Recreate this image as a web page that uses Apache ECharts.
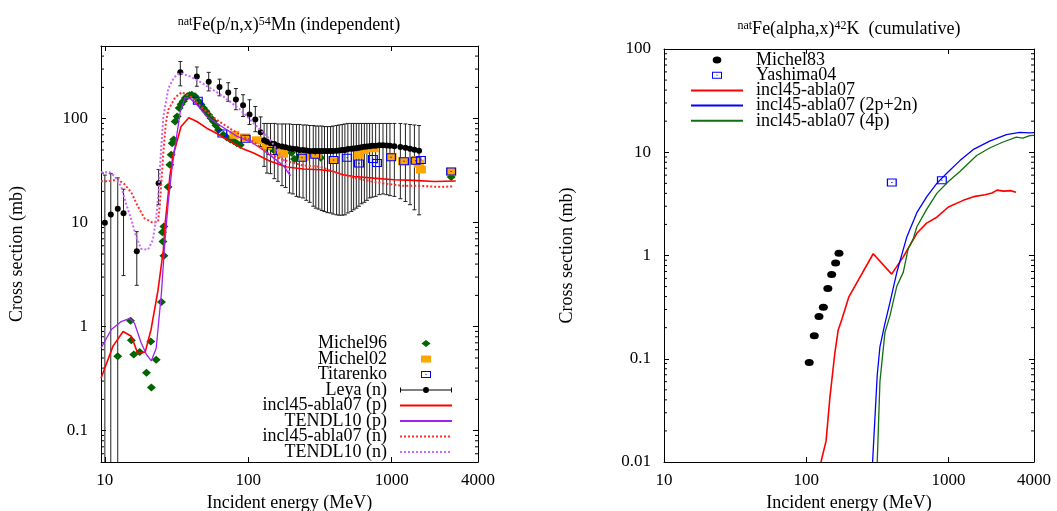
<!DOCTYPE html>
<html>
<head>
<meta charset="utf-8">
<script src="https://cdn.jsdelivr.net/npm/echarts@6/dist/echarts.min.js"></script>
<style>
  html, body { margin: 0; padding: 0; background: #fff; }
  #chart { width: 1057px; height: 511px; }
</style>
</head>
<body>
<div id="chart"></div>
<script>
// ---------- left panel: natFe(p/n,x)54Mn ----------
const michel96 = [
  [12.3, 0.52], [15.1, 1.14], [15.3, 0.74], [15.9, 0.54], [17.5, 0.57], [19.5, 0.36], [20.9, 0.72],
  [21.1, 0.26], [22.8, 0.48], [24.8, 1.73], [25.2, 8.1], [25.4, 6.6], [25.8, 4.8], [25.8, 9.2],
  [27.6, 22], [28.4, 36], [29, 45], [29.5, 58], [30.2, 63], [30.9, 94], [31.9, 105], [33, 127],
  [34, 138], [35.2, 147], [36.4, 158], [37.6, 164], [39, 168], [40.4, 170], [42.5, 164], [45, 147],
  [46.8, 137], [48.7, 127], [50.7, 118], [52.8, 109], [55, 101], [57.3, 94], [59.6, 86], [62, 78],
  [67, 70], [71, 66], [75, 63], [79, 61], [83.3, 58], [88, 56], [135, 53], [150, 50], [165, 46],
  [200, 47], [210, 41], [230, 44], [320, 42], [2600, 27.5]
];
const michel02 = [
  [80, 70], [95, 66], [115, 62], [135, 55], [165, 50], [175, 46], [245, 43], [300, 45], [395, 40],
  [590, 45], [640, 50], [750, 52], [1000, 43], [1200, 39], [1500, 40], [1550, 37], [1600, 32.5], [2600, 31]
];
const titarenko = [
  [44.5, 149], [66, 72], [96, 64], [146, 49], [237, 42], [293, 45], [394, 40], [489, 42], [592, 37],
  [740, 41], [790, 37.5], [990, 42.5], [1220, 39], [1470, 39.5], [1600, 40], [2600, 31]
];
// [energy, value, lower, upper]
const leyaN = [
  [10, 10, 0.01, 28.7], [11, 12, 0.01, 29.6], [12.3, 13.6, 0.01, 27], [13.5, 12.3, 3.1, 21],
  [16.7, 5.3, 2.5, 8.2], [23.7, 24, 15, 32.5], [33.6, 279, 207, 355], [43.8, 254, 205, 314],
  [53, 227, 185, 279], [63, 202, 166, 240], [72.5, 179, 147, 222], [82, 153, 122, 195],
  [92, 135, 105, 170], [102, 110, 88, 152], [112, 98, 75, 131], [122, 74, 54, 104],
  [129, 62, 34.8, 90], [135, 60, 30, 90], [143, 58, 29.6, 90], [152, 57, 26.5, 90], [161, 55, 25, 89],
  [172, 54, 22.7, 89], [182, 53, 21.8, 89], [194, 52, 19.3, 89], [205, 51.5, 18.9, 88], [217, 51, 17.9, 88],
  [227, 50, 17.6, 88], [241, 50, 17.3, 87], [254, 49.5, 16.4, 87], [268, 49, 15.7, 86], [284, 49, 14.4, 86],
  [296, 49, 13.8, 85], [310, 49, 13.5, 85], [326, 49, 13.1, 85], [340, 49, 12.8, 84], [357, 49, 12.5, 84],
  [375, 49, 12.4, 84], [391, 49, 12.1, 85], [413, 49.3, 11.9, 86], [431, 49.5, 11.8, 87], [452, 50, 11.8, 88],
  [472, 50, 11.9, 89], [495, 51, 12.4, 90], [523, 51.3, 12.8, 90], [543, 51.6, 13.3, 90], [567, 52, 13.8, 90],
  [591, 52.6, 14.4, 90], [617, 53, 15.2, 90], [645, 53.6, 15.7, 90], [672, 54, 16.4, 90], [702, 54.3, 17.3, 90],
  [733, 54.8, 17.6, 90], [773, 55, 17.9, 90], [820, 55.4, 18.6, 90], [870, 55.4, 18.9, 90], [923, 55.3, 18.6, 90],
  [973, 55, 18.2, 90], [1044, 54.4, 17.9, 90], [1150, 53.4, 17, 90], [1247, 52.5, 16, 89], [1343, 51.5, 14.9, 88],
  [1441, 50.3, 13.3, 87], [1552, 49.2, 11.9, 86]
];
const incl45P = [
  [9.4, 0.32], [11.4, 0.65], [13.4, 0.9], [15.3, 0.81], [17, 0.55], [19.1, 0.57], [21, 0.94],
  [23.5, 2.26], [25.6, 5.5], [26.2, 9.2], [27.7, 19.3], [28.4, 28], [30, 46], [30.9, 52], [34, 84],
  [38.5, 102], [43.8, 94], [51.3, 81], [60.4, 72], [75, 60.5], [92.7, 51], [109, 46.8], [142, 38.9],
  [186, 34.3], [243, 32.8], [319, 32.3], [394, 31.1], [452, 29], [545, 27.8], [750, 26.8], [1035, 25.9],
  [1430, 25.5], [1980, 24.9], [2800, 25.2]
];
const tendlP = [
  [9.4, 0.62], [11.1, 0.94], [13, 1.12], [14.9, 1.2], [16.1, 1.08], [17.9, 0.7], [19.5, 0.54],
  [21.1, 0.47], [22.8, 0.62], [24.8, 2.1], [26.2, 6.5], [27.6, 15], [29.3, 32], [31.4, 63], [33.5, 115],
  [36.2, 160], [39.3, 156], [43.9, 136], [51.4, 105], [63.7, 86], [83, 68], [106, 59], [127, 50],
  [150, 42], [177, 35], [197, 28]
];
const incl45N = [
  [9.4, 25], [10.5, 25], [12.3, 26], [13.7, 23.5], [15.3, 19.5], [17, 14.3], [18.9, 11], [21.6, 10],
  [23.5, 10.2], [24.2, 15], [25.6, 48], [26.6, 90], [27.7, 122], [30.9, 160], [34.4, 180], [40.4, 160],
  [48.7, 124], [60, 98], [75, 80], [92.7, 67], [109, 60], [135, 47], [177, 40], [240, 35.5], [319, 34.5],
  [414, 30], [545, 27], [716, 25], [930, 23.6], [1220, 22.6], [1608, 22.6], [2100, 22.1], [2720, 22.3]
];
const tendlN = [
  [9.4, 30.5], [10.8, 30.5], [11.7, 28], [13, 22.3], [14, 15.5], [15.3, 10.7], [16.5, 7.4], [17.9, 5.6],
  [20, 5.5], [21.6, 6.8], [22.8, 11], [23.8, 22], [24.4, 40], [25.6, 105], [27.7, 195], [30.4, 250],
  [33.5, 275], [39, 255], [44, 235], [51.5, 206], [67, 164], [88, 122], [115, 84], [142, 63], [177, 40],
  [197, 29]
];

// ---------- right panel: natFe(alpha,x)42K ----------
const michel83 = [[105, 0.092], [114, 0.167], [123, 0.257], [132, 0.316], [142, 0.48], [151, 0.655], [161, 0.845], [170, 1.05]];
const yashima04 = [[400, 5.1], [900, 5.35]];
const incl45A = [
  [127, 0.01], [138, 0.016], [147, 0.043], [159, 0.113], [168, 0.19], [178, 0.24], [200, 0.4],
  [296, 1.04], [399, 0.66], [484, 0.98], [600, 1.64], [703, 2.06], [829, 2.35], [1000, 2.95],
  [1272, 3.42], [1540, 3.74], [1813, 3.87], [2025, 4.03], [2200, 4.3], [2450, 4.2], [2730, 4.25], [2990, 4.1]
];
const incl45A2p2n = [
  [293, 0.01], [316, 0.07], [330, 0.13], [358, 0.22], [388, 0.35], [433, 0.68], [509, 1.5], [600, 2.6],
  [703, 3.7], [829, 5.0], [978, 6.3], [1205, 8.3], [1490, 10.6], [1950, 12.8], [2560, 14.8], [3170, 15.6],
  [3740, 15.4], [4000, 15.5]
];
const incl45A4p = [
  [316, 0.01], [330, 0.06], [358, 0.18], [388, 0.26], [433, 0.5], [482, 0.69], [522, 1.17], [566, 1.45],
  [600, 1.9], [703, 2.8], [829, 4.0], [1000, 5.2], [1205, 6.5], [1580, 9.3], [1950, 11], [2400, 12.5],
  [3000, 14], [3340, 13.7], [3740, 14.5], [4000, 14.6]
];

// tick labels
const xTicks = [10, 100, 1000, 4000];
const yTicksL = [0.1, 1, 10, 100];
const yTicksR = [0.01, 0.1, 1, 10, 100];

const FONT = '"Liberation Serif", "Times New Roman", serif';
const SQUARE = 'path://M0,0H8V8H0Z M1,1V7H7V1Z M3.5,3.5H4.5V4.5H3.5Z';
const ELLIPSE = 'path://M0,5A5,5,0,1,1,10,5A5,5,0,1,1,0,5Z';
// legend icons, drawn in a 52x8 box (the two leading moves pin the box)
const BOX = 'path://M0,0M52,8';
const ICON_DIAMOND = BOX + 'M21.5,4L26,0.5L30.5,4L26,7.5Z';
const ICON_RECT = BOX + 'M21,0.5H31V7.5H21Z';
const ICON_SQUARE = BOX + 'M21,0.5H31V7.5H21Z M22,1.5V6.5H30V1.5Z M25.5,3.5H26.5V4.5H25.5Z';
const ICON_ELLIPSE = BOX + 'M21.7,4A4.3,3.5,0,1,1,30.3,4A4.3,3.5,0,1,1,21.7,4Z';
const ICON_ERRBAR = BOX + 'M0,3.5H23V4.5H0Z M29,3.5H52V4.5H29Z M0,1.5H1V6.5H0Z M51,1.5H52V6.5H51Z M23,4A3,3,0,1,1,29,4A3,3,0,1,1,23,4Z';

function tickFmt(list) {
  return function (v) {
    const t = list.find(t => Math.abs(Math.log10(v) - Math.log10(t)) < 1e-6);
    return t === undefined ? '' : String(t);
  };
}

function minorTicks() {
  // 2..9 x 10^n
  const out = [];
  for (let e = -3; e <= 3; e++) {
    for (let k = 2; k <= 9; k++) out.push(k * Math.pow(10, e));
  }
  return out;
}

function xAxis(grid, pos, min, main) {
  return {
    type: 'log', logBase: 10, gridIndex: grid, position: pos, min: min, max: 4000,
    axisLine: { show: true, onZero: false, lineStyle: { color: '#000', width: 1 } },
    axisTick: { show: true, inside: true, length: 5, lineStyle: { color: '#000' } },
    axisLabel: { show: main, margin: 10, fontFamily: FONT, fontSize: 17, color: '#000', formatter: tickFmt(xTicks) },
    splitLine: { show: false },
    name: main ? 'Incident energy (MeV)' : '', nameLocation: 'middle', nameGap: 31,
    nameTextStyle: { fontFamily: FONT, fontSize: 18, color: '#000' }
  };
}

function yAxis(grid, pos, min, max, ticks, main, gap) {
  return {
    type: 'log', logBase: 10, gridIndex: grid, position: pos, min: min, max: max,
    axisLine: { show: true, onZero: false, lineStyle: { color: '#000', width: 1 } },
    axisTick: { show: true, inside: true, length: 5, lineStyle: { color: '#000' } },
    axisLabel: { show: main, margin: 13, fontFamily: FONT, fontSize: 17, color: '#000', formatter: tickFmt(ticks) },
    splitLine: { show: false },
    name: main ? 'Cross section (mb)' : '', nameLocation: 'middle', nameGap: gap,
    nameTextStyle: { fontFamily: FONT, fontSize: 18, color: '#000' }
  };
}

function minorSeries(xi, xmin, ymin, ymax) {
  const data = minorTicks().filter(v => v > ymin && v < ymax).map(v => [xmin * 1.5, v]);
  return {
    type: 'custom', xAxisIndex: xi, yAxisIndex: xi, silent: true, data: data,
    renderItem: function (params, api) {
      const cs = params.coordSys;
      const y = api.coord([api.value(0), api.value(1)])[1];
      const st = { stroke: '#000', lineWidth: 1 };
      return {
        type: 'group', children: [
          { type: 'line', shape: { x1: cs.x, y1: y, x2: cs.x + 3, y2: y }, style: st },
          { type: 'line', shape: { x1: cs.x + cs.width - 3, y1: y, x2: cs.x + cs.width, y2: y }, style: st }
        ]
      };
    }
  };
}

function renderErr(params, api) {
  const x = api.value(0);
  const lo = api.coord([x, api.value(2)]);
  const hi = api.coord([x, api.value(3)]);
  const st = { stroke: '#222', lineWidth: 1 };
  return {
    type: 'group', children: [
      { type: 'line', shape: { x1: lo[0], y1: lo[1], x2: hi[0], y2: hi[1] }, style: st },
      { type: 'line', shape: { x1: lo[0] - 2, y1: lo[1], x2: lo[0] + 2, y2: lo[1] }, style: st },
      { type: 'line', shape: { x1: hi[0] - 2, y1: hi[1], x2: hi[0] + 2, y2: hi[1] }, style: st }
    ]
  };
}

function line(name, data, xi, color, width, type) {
  return {
    name: name, type: 'line', xAxisIndex: xi, yAxisIndex: xi, data: data,
    symbol: 'none', showSymbol: false, silent: true, clip: true,
    lineStyle: { color: color, width: width, type: type || 'solid' },
    itemStyle: { color: color }
  };
}

function scatter(name, data, xi, symbol, size, color) {
  return {
    name: name, type: 'scatter', xAxisIndex: xi, yAxisIndex: xi, data: data,
    symbol: symbol, symbolSize: size, silent: true, clip: true,
    itemStyle: { color: color, opacity: 1 }
  };
}

// legend entry for a line: hide the little marker drawn on the sample line
function lineEntry(name) {
  return { name: name, itemStyle: { opacity: 0 } };
}

const legendText = { fontFamily: FONT, fontSize: 18, color: '#000' };

const chart = echarts.init(document.getElementById('chart'));
chart.setOption({
  animation: false,
  backgroundColor: '#fff',
  title: [
    {
      text: '{s|nat}Fe(p/n,x){s|54}Mn (independent)', left: 289, top: 16, textAlign: 'center', padding: 0,
      textStyle: { fontFamily: FONT, fontSize: 18, fontWeight: 'normal', color: '#000',
        rich: { s: { fontFamily: FONT, fontSize: 12, color: '#000', verticalAlign: 'top' } } }
    },
    {
      text: '{s|nat}Fe(alpha,x){s|42}K  (cumulative)', left: 849, top: 20, textAlign: 'center', padding: 0,
      textStyle: { fontFamily: FONT, fontSize: 18, fontWeight: 'normal', color: '#000',
        rich: { s: { fontFamily: FONT, fontSize: 12, color: '#000', verticalAlign: 'top' } } }
    }
  ],
  legend: [
    {
      data: [
        { name: 'Michel96', icon: ICON_DIAMOND },
        { name: 'Michel02', icon: ICON_RECT },
        { name: 'Titarenko', icon: ICON_SQUARE },
        { name: 'Leya (n)', icon: ICON_ERRBAR },
        lineEntry('incl45-abla07 (p)'), lineEntry('TENDL10 (p)'),
        lineEntry('incl45-abla07 (n)'), lineEntry('TENDL10 (n)')
      ],
      orient: 'vertical', align: 'right', right: 604, top: 334.5, padding: 0, itemGap: -2.5,
      itemWidth: 52, itemHeight: 8, selectedMode: false,
      textStyle: Object.assign({ padding: [0, 8, 0, 0] }, legendText)
    },
    {
      data: [
        { name: 'Michel83', icon: ICON_ELLIPSE },
        { name: 'Yashima04', icon: ICON_SQUARE },
        lineEntry('incl45-abla07'), lineEntry('incl45-abla07 (2p+2n)'), lineEntry('incl45-abla07 (4p)')
      ],
      orient: 'vertical', align: 'left', left: 690, top: 51, padding: 0, itemGap: -2.8,
      itemWidth: 52, itemHeight: 8, selectedMode: false,
      textStyle: Object.assign({ padding: [0, 0, 0, 8] }, legendText)
    }
  ],
  grid: [
    { left: 101, top: 46, width: 377, height: 416, outerBoundsMode: 'none', containLabel: false },
    { left: 664, top: 49, width: 370, height: 413, outerBoundsMode: 'none', containLabel: false }
  ],
  xAxis: [
    xAxis(0, 'bottom', 9.4, true),
    xAxis(0, 'top', 9.4, false),
    xAxis(1, 'bottom', 10, true),
    xAxis(1, 'top', 10, false)
  ],
  yAxis: [
    yAxis(0, 'left', 0.05, 500, yTicksL, true, 75),
    yAxis(0, 'right', 0.05, 500, yTicksL, false, 0),
    yAxis(1, 'left', 0.01, 100, yTicksR, true, 88),
    yAxis(1, 'right', 0.01, 100, yTicksR, false, 0)
  ],
  series: [
    minorSeries(0, 9.4, 0.05, 500),
    minorSeries(2, 10, 0.01, 100),

    scatter('Michel96', michel96, 0, 'diamond', [9, 8], '#006400'),
    scatter('Michel02', michel02, 0, 'rect', [10, 8], '#ffa500'),
    scatter('Titarenko', titarenko, 0, SQUARE, [10, 8], '#0000ff'),
    {
      name: 'Leya (n)', type: 'custom', xAxisIndex: 0, yAxisIndex: 0, data: leyaN, clip: true, silent: true,
      itemStyle: { color: '#000' }, encode: { x: 0, y: 1 }, renderItem: renderErr
    },
    scatter('Leya (n)', leyaN.map(d => [d[0], d[1]]), 0, 'circle', 6, '#000'),
    line('incl45-abla07 (p)', incl45P, 0, '#ff0000', 1.6),
    line('TENDL10 (p)', tendlP, 0, '#a020f0', 1.3),
    line('incl45-abla07 (n)', incl45N, 0, '#ff3030', 2, [2, 2]),
    line('TENDL10 (n)', tendlN, 0, '#cc66ff', 2, [2, 2]),

    scatter('Michel83', michel83, 2, ELLIPSE, [9, 7], '#000'),
    scatter('Yashima04', yashima04, 2, SQUARE, [10, 8], '#0000ff'),
    line('incl45-abla07', incl45A, 2, '#ff0000', 1.6),
    line('incl45-abla07 (2p+2n)', incl45A2p2n, 2, '#0000ff', 1.3),
    line('incl45-abla07 (4p)', incl45A4p, 2, '#107010', 1.3)
  ]
});
</script>
</body>
</html>
